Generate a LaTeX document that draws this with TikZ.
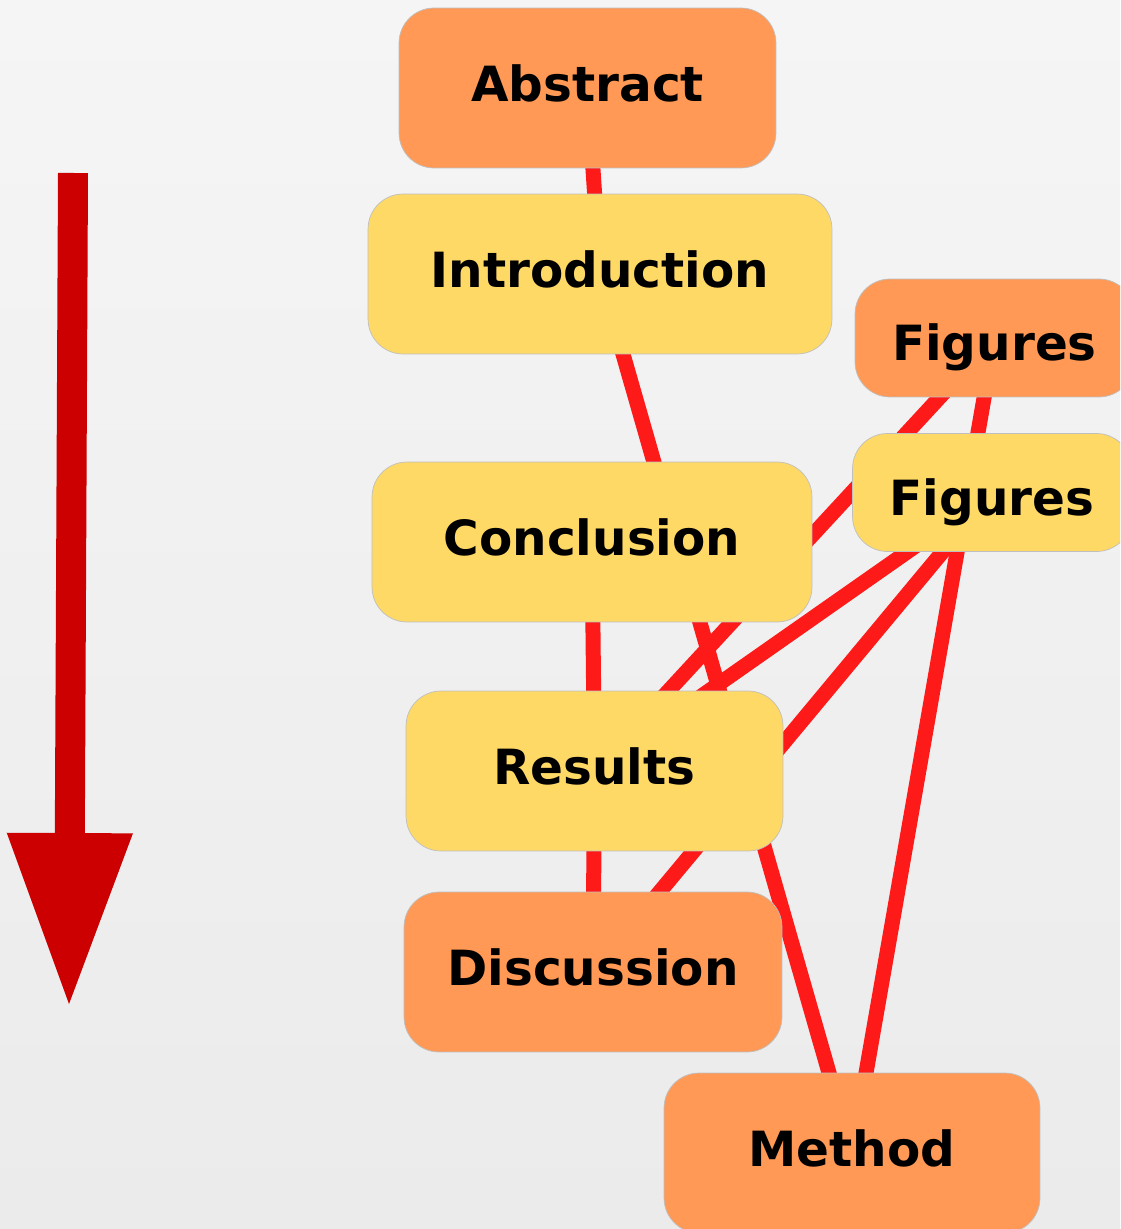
\documentclass[tikz,border=0pt]{standalone}
\usepackage{fontspec}
\setmainfont{DejaVu Sans}
\usetikzlibrary{arrows.meta}
\definecolor{MapOrange}{HTML}{FF9955}
\definecolor{MapYellow}{HTML}{FFD966}
\definecolor{LinkRed}{HTML}{FF1A1A}
\definecolor{FlowRed}{HTML}{CC0000}
\definecolor{BgTop}{HTML}{F5F5F5}
\definecolor{BgBottom}{HTML}{EBEBEB}
\pgfdeclarelayer{backdrop}
\pgfdeclarelayer{links}
\pgfsetlayers{backdrop,links,main}

\begin{document}
\begin{tikzpicture}[x=0.02cm, y=-0.02cm,
    topic/.style={draw=gray!50, line width=0.4pt, rounded corners=0.7cm, inner sep=0pt,
                  minimum height=3.2cm, text height=0.78cm, text depth=0.24cm,
                  font=\fontsize{27.6}{32}\selectfont\bfseries},
    hot/.style={topic, fill=MapOrange},
    warm/.style={topic, fill=MapYellow},
    figtopic/.style={minimum width=5.58cm, minimum height=2.36cm, text height=1.16cm},
    link/.style={LinkRed, line width=0.3cm}]
  \useasboundingbox (0,0) rectangle (1120,1229);
  \clip (0,0) rectangle (1120,1229);
  \begin{pgfonlayer}{backdrop}
    \fill[top color=BgTop, bottom color=BgBottom] (0,0) rectangle (1120,1229);
  \end{pgfonlayer}

  % reading direction
  \coordinate (flowtop) at (73,173);
  \coordinate (flowend) at (69,1008);
  \draw[FlowRed, line width=0.6cm, -{Triangle[length=3.5cm, width=2.34cm]}] (flowtop) -- (flowend);

  % topics
  \node[hot, minimum width=7.54cm] (abstract) at (587.5,88) {Abstract};
  \node[warm, minimum width=9.28cm] (intro) at (600,274) {Introduction};
  \node[hot, figtopic] (figs) at (994.5,338) {Figures};
  \node[warm, figtopic] (figdraft) at (992,492.5) {Figures};
  \node[warm, minimum width=8.8cm] (concl) at (592,542) {Conclusion};
  \node[warm, minimum width=7.54cm] (results) at (594.5,771) {Results};
  \node[hot, minimum width=7.56cm] (discuss) at (593,972) {Discussion};
  \node[hot, minimum width=7.52cm] (method) at (852,1153) {Method};

  % links, behind the boxes
  \begin{pgfonlayer}{links}
    \draw[link] (abstract.center) -- (intro.center);
    \draw[link] (intro.center) -- (method.center);
    \draw[link] (concl.center) -- (results.center);
    \draw[link] (results.center) -- (discuss.center);
    \draw[link] (figs.center) -- (results.center);
    \draw[link] (figs.center) -- (method.center);
    \draw[link] (figdraft.center) -- (results.center);
    \draw[link] (figdraft.center) -- (discuss.center);
  \end{pgfonlayer}
\end{tikzpicture}
\end{document}
